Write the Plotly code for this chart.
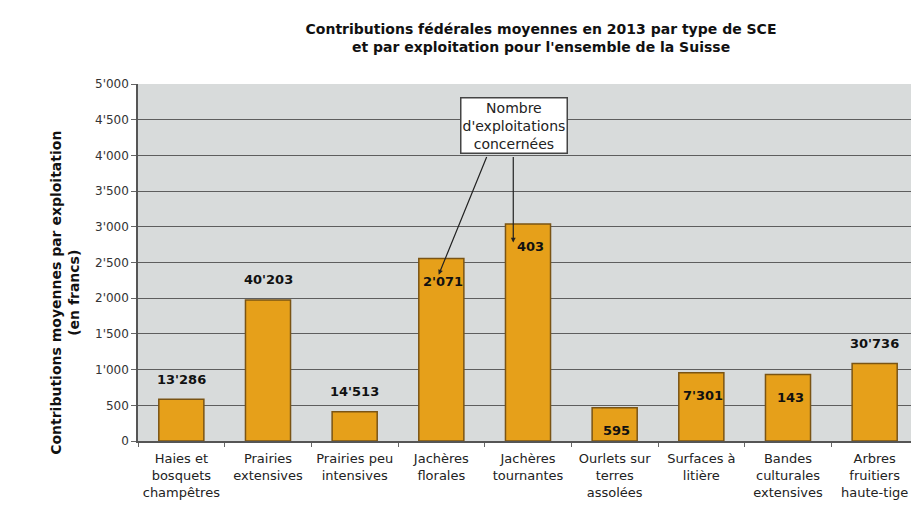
import plotly.graph_objects as go

# Data
categories = [
    "Haies et<br>bosquets<br>champêtres",
    "Prairies<br>extensives",
    "Prairies peu<br>intensives",
    "Jachères<br>florales",
    "Jachères<br>tournantes",
    "Ourlets sur<br>terres<br>assolées",
    "Surfaces à<br>litière",
    "Bandes<br>culturales<br>extensives",
    "Arbres<br>fruitiers<br>haute-tige",
]
contributions = [585, 1975, 410, 2555, 3040, 465, 955, 930, 1085]
nb_exploitations = ["13'286", "40'203", "14'513", "2'071", "403", "595", "7'301", "143", "30'736"]
label_pos = ["outside", "outside", "outside", "inside", "inside", "inside", "inside", "inside", "outside"]

tick_vals = [0, 500, 1000, 1500, 2000, 2500, 3000, 3500, 4000, 4500, 5000]
tick_text = ["0", "500", "1'000", "1'500", "2'000", "2'500", "3'000", "3'500", "4'000", "4'500", "5'000"]

bar_color = "#E6A01A"
edge_color = "#7A5414"
font_family = "DejaVu Sans, Arial, sans-serif"

fig = go.Figure()

fig.add_trace(
    go.Bar(
        x=categories,
        y=contributions,
        marker=dict(color=bar_color, line=dict(color=edge_color, width=1.5)),
        showlegend=False,
    )
)

# Number of farms: above the bar or inside near the top
for cat, val, lab, pos in zip(categories, contributions, nb_exploitations, label_pos):
    fig.add_annotation(
        x=cat, y=val, xref="x", yref="y",
        text=lab, showarrow=False,
        xshift=0 if pos == "outside" else 2,
        yshift=20 if pos == "outside" else -23,
        font=dict(family=font_family, size=13, color="#111111", weight="bold"),
    )

# Callout box and its two arrows
fig.add_annotation(
    x=3.84, y=4420, xref="x", yref="y",
    text="Nombre<br>d'exploitations<br>concernées",
    showarrow=False,
    font=dict(family=font_family, size=14, color="#222222"),
    bgcolor="white", bordercolor="#444444", borderwidth=1.5, borderpad=1,
)
fig.add_annotation(
    x=2.97, y=2330, ax=3.53, ay=4000,
    xref="x", yref="y", axref="x", ayref="y",
    text="", showarrow=True, arrowhead=2, arrowsize=0.8, arrowwidth=1.2, arrowcolor="#222222",
)
fig.add_annotation(
    x=3.83, y=2780, ax=3.83, ay=4000,
    xref="x", yref="y", axref="x", ayref="y",
    text="", showarrow=True, arrowhead=2, arrowsize=0.8, arrowwidth=1.2, arrowcolor="#222222",
)

# Y axis title, placed a little below the plot centre as in the original
fig.add_annotation(
    x=0, y=0.415, xref="paper", yref="paper",
    xshift=-73, xanchor="center", yanchor="middle",
    text="Contributions moyennes par exploitation<br>(en francs)",
    textangle=-90, showarrow=False,
    font=dict(family=font_family, size=14, color="#111111", weight="bold"),
)

fig.update_layout(
    title=dict(
        text="Contributions fédérales moyennes en 2013 par type de SCE<br>et par exploitation pour l'ensemble de la Suisse",
        x=0.58, xanchor="center", y=0.95, yanchor="top",
        font=dict(family=font_family, size=14, color="#111111", weight="bold"),
    ),
    width=919,
    height=525,
    margin=dict(l=130, r=9, t=76, b=92),
    paper_bgcolor="white",
    plot_bgcolor="#D8DBDB",
    bargap=0.48,
    font=dict(family=font_family, size=12, color="#222222"),
    xaxis=dict(
        tickson="boundaries",
        ticks="outside",
        ticklen=4,
        tickcolor="#666666",
        showline=True,
        linecolor="#555555",
        linewidth=1.5,
        showgrid=False,
        tickangle=0,
        ticklabelstandoff=5,
        tickfont=dict(family=font_family, size=13, color="#222222"),
    ),
    yaxis=dict(
        range=[0, 5000],
        tickvals=tick_vals,
        ticktext=tick_text,
        ticks="outside",
        ticklen=5,
        tickcolor="#666666",
        showline=True,
        linecolor="#555555",
        linewidth=1.5,
        gridcolor="#5E5E5E",
        gridwidth=1,
        zeroline=False,
        tickfont=dict(family=font_family, size=12, color="#333333"),
    ),
)

fig.write_html("out.html")
